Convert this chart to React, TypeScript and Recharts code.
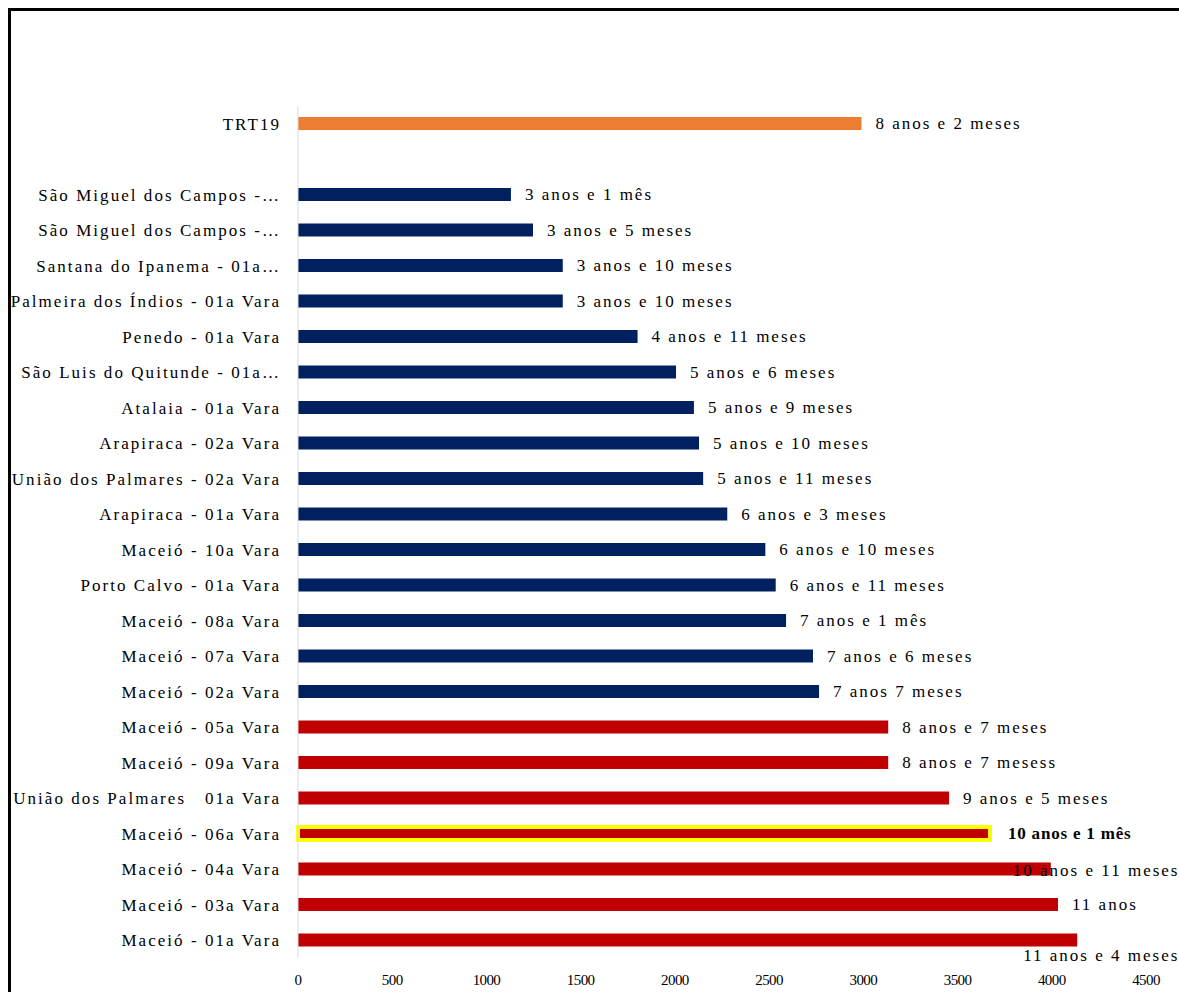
import React from "react";
import { Bar, BarChart, Cell, LabelList, XAxis, YAxis } from "recharts";

// Varas ordenadas como no gráfico original (linha vazia separa o TRT19)
const categories = [
  "TRT19",
  "",
  "São Miguel dos Campos -…",
  "São Miguel dos Campos -…",
  "Santana do Ipanema - 01a…",
  "Palmeira dos Índios - 01a Vara",
  "Penedo - 01a Vara",
  "São Luis do Quitunde - 01a…",
  "Atalaia - 01a Vara",
  "Arapiraca - 02a Vara",
  "União dos Palmares - 02a Vara",
  "Arapiraca - 01a Vara",
  "Maceió - 10a Vara",
  "Porto Calvo - 01a Vara",
  "Maceió - 08a Vara",
  "Maceió - 07a Vara",
  "Maceió - 02a Vara",
  "Maceió - 05a Vara",
  "Maceió - 09a Vara",
  "União dos Palmares \u00a0 01a Vara",
  "Maceió - 06a Vara",
  "Maceió - 04a Vara",
  "Maceió - 03a Vara",
  "Maceió - 01a Vara",
];

// tempo em dias
const days = [
  2990, null, 1130, 1247, 1405, 1405, 1802, 2006, 2101, 2128, 2150, 2278, 2480,
  2535, 2590, 2733, 2765, 3132, 3132, 3455, 3672, 3995, 4033, 4135,
];

const durationLabels = [
  "8 anos e 2 meses",
  "",
  "3 anos e 1 mês",
  "3 anos e 5 meses",
  "3 anos e 10 meses",
  "3 anos e 10 meses",
  "4 anos e 11 meses",
  "5 anos e 6 meses",
  "5 anos e 9 meses",
  "5 anos e 10 meses",
  "5 anos e 11 meses",
  "6 anos e 3 meses",
  "6 anos e 10 meses",
  "6 anos e 11 meses",
  "7 anos e 1 mês",
  "7 anos e 6 meses",
  "7 anos 7 meses",
  "8 anos e 7 meses",
  "8 anos e 7 mesess",
  "9 anos e 5 meses",
  "10 anos e 1 mês",
  "10 anos e 11 meses",
  "11 anos",
  "11 anos e 4 meses",
];

const groups = [
  "tribunal", "", "abaixo", "abaixo", "abaixo", "abaixo", "abaixo", "abaixo",
  "abaixo", "abaixo", "abaixo", "abaixo", "abaixo", "abaixo", "abaixo", "abaixo",
  "abaixo", "acima", "acima", "acima", "acima", "acima", "acima", "acima",
];

const xTicks = [0, 500, 1000, 1500, 2000, 2500, 3000, 3500, 4000, 4500];

const highlighted = "Maceió - 06a Vara";
const highlightedLabel = "10 anos e 1 mês";

const groupColors: Record<string, string> = {
  tribunal: "#ED7D31",
  abaixo: "#002060",
  acima: "#C00000",
  "": "#ffffff",
};

// rótulos que foram arrastados à mão no original
const labelNudges: Record<string, [number, number]> = {
  "10 anos e 11 meses": [-52, 1],
  "11 anos e 4 meses": [-68, 15],
};

const data = categories.map((name, i) => ({
  name: name || " ",
  dias: days[i],
  label: durationLabels[i],
  group: groups[i],
}));

const FONT = "'Liberation Serif', 'Times New Roman', serif";

function DurationLabel(props: any) {
  const { x, y, width, height, value } = props;
  if (!value) return null;
  const [dx, dy] = labelNudges[value] ?? [0, 0];
  const bold = value === highlightedLabel;
  return (
    <text
      x={x + width + (bold ? 18 : 14) + dx}
      y={y + height / 2 + dy}
      dominantBaseline="central"
      fontFamily={FONT}
      fontSize={17}
      letterSpacing={bold ? 0.8 : 2}
      fontWeight={bold ? "bold" : "normal"}
      fill="#000"
    >
      {value}
    </text>
  );
}

export default function App() {
  return (
    <>
      <style>{"html, body { margin: 0; padding: 0; overflow: hidden; }"}</style>
      <div
        style={{
          position: "fixed",
          left: 0,
          top: 0,
          width: 1179,
          height: 992,
          overflow: "hidden",
          background: "#fff",
        }}
      >
        {/* moldura: só a borda de cima e a da esquerda aparecem */}
        <div style={{ position: "absolute", left: 8, top: 8, width: 1171, height: 3, background: "#000" }} />
        <div style={{ position: "absolute", left: 8, top: 8, width: 3, height: 984, background: "#000" }} />
        <div style={{ position: "absolute", left: 0, top: 0 }}>
          <BarChart
            width={1179}
            height={992}
            data={data}
            layout="vertical"
            margin={{ top: 106, right: 33, bottom: 0, left: 0 }}
            barSize={13}
          >
            <XAxis
              type="number"
              domain={[0, 4500]}
              ticks={xTicks}
              axisLine={false}
              tickLine={false}
              tickSize={0}
              tickMargin={16}
              height={34}
              interval={0}
              tick={{ fontFamily: FONT, fontSize: 15, fill: "#000", letterSpacing: -0.6 }}
            />
            <YAxis
              type="category"
              dataKey="name"
              width={298}
              interval={0}
              tickLine={false}
              tickSize={0}
              tickMargin={17}
              axisLine={{ stroke: "#d9d9d9" }}
              tick={{ fontFamily: FONT, fontSize: 17, fill: "#000", letterSpacing: 2.05 }}
            />
            <Bar dataKey="dias" isAnimationActive={false}>
              {data.map((d, i) => (
                <Cell
                  key={i}
                  fill={groupColors[d.group]}
                  stroke={d.name === highlighted ? "#FFFF00" : undefined}
                  strokeWidth={d.name === highlighted ? 4 : 0}
                />
              ))}
              <LabelList dataKey="label" content={<DurationLabel />} />
            </Bar>
          </BarChart>
        </div>
      </div>
    </>
  );
}
